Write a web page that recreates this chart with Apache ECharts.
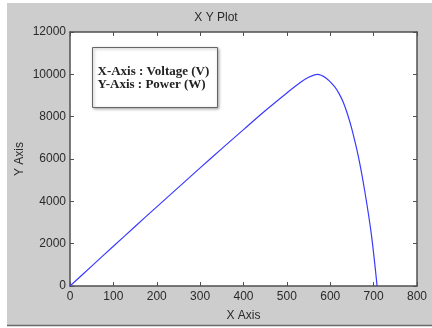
<!DOCTYPE html>
<html>
<head>
<meta charset="utf-8">
<script src="https://cdn.jsdelivr.net/npm/echarts@6/dist/echarts.min.js"></script>
<style>
  html, body { margin: 0; padding: 0; background: #fff; }
  #chart { width: 432px; height: 328px; }
</style>
</head>
<body>
<div id="chart"></div>
<script>
// Voltage (V) and power (W)
const voltage = [0, 50, 100, 150, 200, 250, 300, 350, 400, 450, 500, 530, 550, 570, 590, 610, 620, 630, 640, 650, 665, 680, 695, 708];
const power = [0, 940, 1880, 2810, 3740, 4660, 5580, 6490, 7390, 8280, 9120, 9600, 9860, 10000, 9830, 9420, 9100, 8680, 8100, 7400, 6100, 4430, 2400, 0];
const xTicks = [0, 100, 200, 300, 400, 500, 600, 700, 800];
const yTicks = [0, 2000, 4000, 6000, 8000, 10000, 12000];

const axisColor = '#505050';
const labelFont = { color: '#2a2a2a', fontFamily: 'Arial, Liberation Sans, sans-serif', fontSize: 12 };

const chart = echarts.init(document.getElementById('chart'));

// shared style for the frame axes (MATLAB box with inward ticks)
function frameAxis(extra) {
  return Object.assign({
    type: 'value',
    axisLine: { show: true, onZero: false, lineStyle: { color: axisColor, width: 1.5 } },
    axisTick: { show: true, inside: true, length: 4, lineStyle: { color: axisColor } },
    splitLine: { show: false }
  }, extra);
}

const option = {
  backgroundColor: '#ffffff',
  animation: false,
  graphic: [
    {
      type: 'rect', z: -10, silent: true,
      shape: { x: 7, y: 3, width: 425, height: 322 },
      style: { fill: '#cdcdcd' }
    },
    {
      type: 'line', z: -9, silent: true,
      shape: { x1: 7, y1: 325.5, x2: 432, y2: 325.5 },
      style: { stroke: '#6a6a6a', lineWidth: 1.5 }
    },
    {
      type: 'text', left: 'center', top: 12,
      style: { text: 'X Y Plot', fill: '#2a2a2a', font: '12px Arial, Liberation Sans, sans-serif' }
    },
    {
      type: 'group', left: 92, top: 47, z: 100,
      children: [
        {
          type: 'rect',
          shape: { x: 0, y: 0, width: 125, height: 60 },
          style: { fill: '#fff', stroke: '#666', lineWidth: 1, shadowBlur: 3, shadowColor: 'rgba(0,0,0,0.35)', shadowOffsetX: 1, shadowOffsetY: 1 }
        },
        {
          type: 'text', x: 5, y: 18,
          style: { text: 'X-Axis : Voltage (V)', fill: '#222', font: 'bold 13px "Liberation Serif", "Times New Roman", serif' }
        },
        {
          type: 'text', x: 5, y: 31,
          style: { text: 'Y-Axis : Power (W)', fill: '#222', font: 'bold 13px "Liberation Serif", "Times New Roman", serif' }
        }
      ]
    }
  ],
  grid: { left: 70, right: 15, top: 32, bottom: 42, show: true, backgroundColor: '#fff', borderWidth: 0 },
  xAxis: [
    frameAxis({
      position: 'bottom', min: 0, max: 800, interval: 100,
      name: 'X Axis', nameLocation: 'middle', nameGap: 24, nameMoveOverlap: false,
      nameTextStyle: labelFont,
      axisLabel: Object.assign({ margin: 5, formatter: v => (xTicks.includes(v) ? String(v) : '') }, labelFont)
    }),
    frameAxis({
      position: 'top', min: 0, max: 800, interval: 100,
      axisLabel: { show: false }
    })
  ],
  yAxis: [
    frameAxis({
      position: 'left', min: 0, max: 12000, interval: 2000,
      name: 'Y Axis', nameLocation: 'middle', nameGap: 44, nameMoveOverlap: false,
      nameTextStyle: labelFont,
      axisLabel: Object.assign({ margin: 4, formatter: v => (yTicks.includes(v) ? String(v) : '') }, labelFont)
    }),
    frameAxis({
      position: 'right', min: 0, max: 12000, interval: 2000,
      axisLabel: { show: false }
    })
  ],
  series: [
    {
      type: 'line',
      data: voltage.map((v, i) => [v, power[i]]),
      smooth: 0.3,
      showSymbol: false,
      lineStyle: { color: '#3a3aff', width: 1.2 }
    }
  ]
};

chart.setOption(option);
</script>
</body>
</html>
